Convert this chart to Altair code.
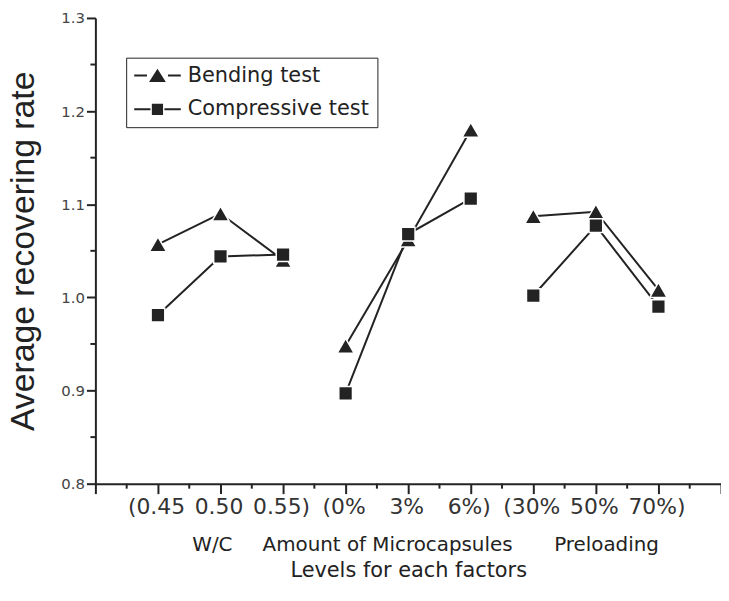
import altair as alt
import pandas as pd

# ---- data ----
x_levels = [1, 2, 3, 4, 5, 6, 7, 8, 9]
factor = ["W/C", "W/C", "W/C", "Micro", "Micro", "Micro", "Pre", "Pre", "Pre"]
bending = [1.057, 1.090, 1.040, 0.948, 1.062, 1.180, 1.087, 1.092, 1.008]
compressive = [0.981, 1.044, 1.046, 0.897, 1.068, 1.106, 1.002, 1.077, 0.990]
series_names = ["Bending test", "Compressive test"]

tick_labels = ["", "(0.45", "0.50", "0.55)", "(0%", "3%", "6%)", "(30%", "50%", "70%)", ""]
x_major = [0, 1, 2, 3, 4, 5, 6, 7, 8, 9, 10]
x_minor = [0.5, 1.5, 2.5, 3.5, 4.5, 5.5, 6.5, 7.5, 8.5, 9.5]
y_major = [0.8, 0.9, 1.0, 1.1, 1.2, 1.3]
y_minor = [0.85, 0.95, 1.05, 1.15, 1.25]

group_names = ["W/C", "Amount of Microcapsules", "Preloading"]
group_pos = [1.87, 4.67, 8.17]

rows = []
for s, vals in zip(series_names, [bending, compressive]):
    for xv, f, v in zip(x_levels, factor, vals):
        rows.append({"x": xv, "value": v, "series": s, "legend_series": s, "key": s + "|" + f})
df = pd.DataFrame(rows)
gdf = pd.DataFrame({"x": group_pos, "name": group_names})
xminor_df = pd.DataFrame({"x": x_minor})
yminor_df = pd.DataFrame({"value": y_minor})

ink = "#232323"
W, H = 630, 469
xscale = alt.Scale(domain=[0, 10], nice=False, zero=False)
yscale = alt.Scale(domain=[0.8, 1.3], nice=False, zero=False)
label_js = "[" + ",".join("'%s'" % t for t in tick_labels) + "]"

common = dict(domainColor=ink, domainWidth=2, tickColor=ink, tickWidth=2, grid=False)

xaxis = alt.Axis(
    orient="bottom", values=x_major, tickSize=10,
    labelExpr=f"{label_js}[datum.value]",
    title="Levels for each factors",
    labelFont="DejaVu Sans", labelFontSize=22, labelColor="#333", labelPadding=3,
    labelOffset=-2, labelFlush=False, labelOverlap=False, labelBound=False,
    titleFont="DejaVu Sans", titleFontSize=21, titleFontWeight="normal",
    titleColor="#222", titlePadding=42, **common,
)
yaxis = alt.Axis(
    orient="left", values=y_major, tickSize=9, format=".1f",
    title="Average recovering rate",
    titleFont="Liberation Sans", titleFontSize=34, titleFontWeight="normal",
    titleColor="#222", titlePadding=20,
    labelFont="DejaVu Sans", labelFontSize=15, labelColor="#444", labelPadding=2,
    labelOverlap=False, labelFlush=False, **common,
)

# legend symbols: line - marker - line (all filled sub-paths)
tri_path = ("M-1,-0.045H-0.45V0.045H-1Z M0.45,-0.045H1V0.045H0.45Z "
            "M0,-0.29L0.36,0.28L-0.36,0.28Z")
sq_path = ("M-1,-0.045H-0.3V0.045H-1Z M0.3,-0.045H1V0.045H0.3Z "
           "M-0.24,-0.24H0.24V0.24H-0.24Z")

legend = alt.Legend(
    title=None, orient="none", legendX=31, legendY=40, direction="vertical",
    padding=8, strokeColor=ink, fillColor="white",
    symbolSize=2209, clipHeight=20, rowPadding=13,
    symbolFillColor=ink, symbolStrokeColor=ink, symbolStrokeWidth=0, symbolOpacity=1,
    labelFont="DejaVu Sans", labelFontSize=21, labelColor="#222",
    labelOffset=7, labelLimit=400,
)

lines = alt.Chart(df).mark_line(color=ink, strokeWidth=2).encode(
    x=alt.X("x:Q", scale=xscale, axis=xaxis),
    y=alt.Y("value:Q", scale=yscale, axis=yaxis),
    detail="key:N",
)
xminor = alt.Chart(xminor_df).mark_rule(color=ink, strokeWidth=2).encode(
    x=alt.X("x:Q", scale=xscale),
    y=alt.value(H), y2=alt.value(H + 5),
)
yminor = alt.Chart(yminor_df).mark_rule(color=ink, strokeWidth=2).encode(
    y=alt.Y("value:Q", scale=yscale),
    x=alt.value(0), x2=alt.value(-5),
)
points = alt.Chart(df).mark_point(filled=True, color=ink, opacity=1, stroke="white", strokeWidth=1.5).encode(
    x=alt.X("x:Q", scale=xscale),
    y=alt.Y("value:Q", scale=yscale),
    shape=alt.Shape("series:N", scale=alt.Scale(domain=series_names, range=["triangle-up", "square"]), legend=None),
    size=alt.Size("series:N", scale=alt.Scale(domain=series_names, range=[300, 190]), legend=None),
)
legend_layer = alt.Chart(df).mark_point(filled=True, color=ink, opacity=1).encode(
    x=alt.X("x:Q", scale=xscale),
    y=alt.Y("value:Q", scale=yscale),
    shape=alt.Shape("legend_series:N", scale=alt.Scale(domain=series_names, range=[tri_path, sq_path]), legend=legend),
).transform_filter("false")

groups = alt.Chart(gdf).mark_text(font="DejaVu Sans", fontSize=20, color="#222", baseline="alphabetic").encode(
    x=alt.X("x:Q", scale=xscale),
    y=alt.value(537),
    text="name:N",
)

chart = alt.layer(lines, xminor, yminor, points, legend_layer, groups).resolve_scale(
    shape="independent", size="independent"
).resolve_legend(
    shape="independent", size="independent"
).properties(
    width=W, height=H,
    padding={"left": 88, "top": 8, "right": 0, "bottom": 100},
    autosize=alt.AutoSizeParams(type="none"),
    background="white",
).configure_view(stroke=None)

chart.save("out.html", embed_options={"renderer": "svg", "actions": False})
